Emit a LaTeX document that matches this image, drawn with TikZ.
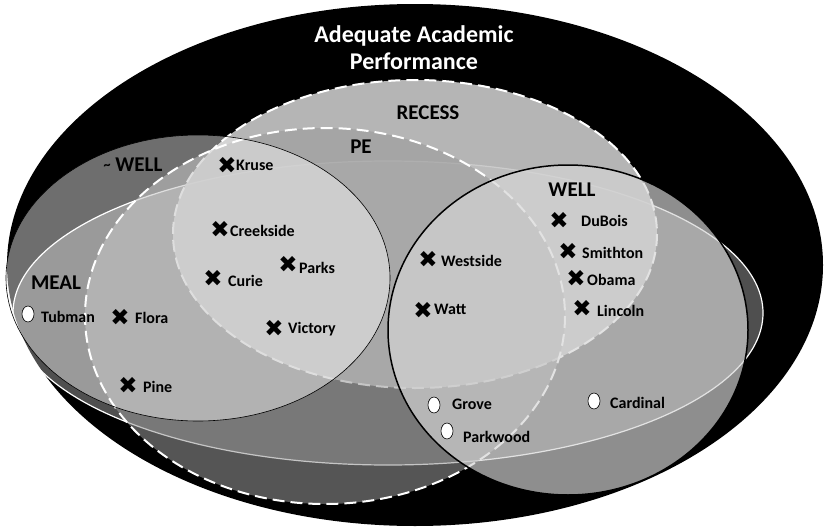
\documentclass[tikz,border=0pt]{standalone}
\usepackage{fontspec}
\setmainfont{Carlito}
\newfontfamily\symfont{DejaVu Sans}
\usetikzlibrary{shapes.geometric}
\definecolor{recessfill}{gray}{0.78}
\definecolor{pefill}{gray}{0.60}
\definecolor{wellfill}{gray}{0.835}
\begin{document}
\begin{tikzpicture}[
    x=1pt, y=-1pt,
    outer/.style={fill=black},
    meal/.style={fill=white, fill opacity=0.31, draw=white, line width=1.2pt},
    recess/.style={fill=recessfill, fill opacity=0.91, draw=white, line width=2pt, dash pattern=on 12pt off 6pt},
    pe/.style={fill=pefill, fill opacity=0.56, draw=white, line width=2pt, dash pattern=on 12pt off 6pt},
    notwell/.style={fill=white, fill opacity=0.43, draw=black, line width=0.6pt},
    well/.style={fill=wellfill, fill opacity=0.67, draw=black, line width=1.5pt},
    setname/.style={font=\bfseries\fontsize{21}{21}\selectfont, inner sep=0pt},
    title/.style={font=\bfseries\fontsize{24}{24}\selectfont, text=white, align=center, inner sep=0pt},
    cross/.style={font=\symfont\bfseries\fontsize{23}{23}\selectfont, inner sep=0pt},
    hollow/.style={ellipse, draw=black, fill=white, line width=0.6pt, minimum width=12pt, minimum height=16pt, inner sep=0pt},
    school/.style={font=\bfseries\fontsize{16}{16}\selectfont, anchor=west, inner sep=0pt}
  ]
  \useasboundingbox (0,0) rectangle (825,530);
  % Draw the sets, back to front.
  \fill[outer] (415,265) ellipse [x radius=408, y radius=261];
  \draw[meal] (388,313) ellipse [x radius=375, y radius=152];
  \draw[recess] (415,234) ellipse [x radius=242, y radius=154];
  \draw[pe] (325,316) ellipse [x radius=240, y radius=188];
  \draw[notwell] (198,278) ellipse [x radius=192, y radius=143];
  \draw[well] (568,330) ellipse [x radius=180, y radius=165];
  % Name the sets.
  \node[title] (aap) at (414,48) {Adequate Academic\\[3pt]Performance};
  \node[setname] (recesslbl) at (428,113) {RECESS};
  \node[setname] (pelbl) at (361,147) {PE};
  \node[setname] (notwelllbl) at (133,165) {\raisebox{2pt}{\fontsize{14}{14}\selectfont\textasciitilde}\ WELL};
  \node[setname] (meallbl) at (56,283) {MEAL};
  \node[setname] (welllbl) at (572,190) {WELL};
  % Schools marked with a cross.
  \node[cross] (kruse) at (227,165) {✖};
  \node[school] (kruselbl) at (236,165) {Kruse};
  \node[cross] (creekside) at (220,229) {✖};
  \node[school] (creeksidelbl) at (230,231) {Creekside};
  \node[cross] (curie) at (213,278) {✖};
  \node[school] (curielbl) at (228,281) {Curie};
  \node[cross] (parks) at (288,264) {✖};
  \node[school] (parkslbl) at (299,268) {Parks};
  \node[cross] (victory) at (274,328) {✖};
  \node[school] (victorylbl) at (288,329) {Victory};
  \node[cross] (flora) at (120,317) {✖};
  \node[school] (floralbl) at (135,318) {Flora};
  \node[cross] (pine) at (128,385) {✖};
  \node[school] (pinelbl) at (143,387) {Pine};
  \node[cross] (westside) at (428,259) {✖};
  \node[school] (westsidelbl) at (441,261) {Westside};
  \node[cross] (watt) at (423,310) {✖};
  \node[school] (wattlbl) at (434,309) {Watt};
  \node[cross] (dubois) at (559,220) {✖};
  \node[school] (duboislbl) at (581,221) {DuBois};
  \node[cross] (smithton) at (568,251) {✖};
  \node[school] (smithtonlbl) at (582,253) {Smithton};
  \node[cross] (obama) at (576,278) {✖};
  \node[school] (obamalbl) at (587,280) {Obama};
  \node[cross] (lincoln) at (582,308) {✖};
  \node[school] (lincolnlbl) at (597,311) {Lincoln};
  % Schools marked with a hollow dot.
  \node[hollow] (tubman) at (28,314) {};
  \node[school] (tubmanlbl) at (41,317) {Tubman};
  \node[hollow] (grove) at (434,405) {};
  \node[school] (grovelbl) at (452,404) {Grove};
  \node[hollow] (parkwood) at (447,431) {};
  \node[school] (parkwoodlbl) at (463,437) {Parkwood};
  \node[hollow] (cardinal) at (594,401) {};
  \node[school] (cardinallbl) at (610,403) {Cardinal};
\end{tikzpicture}
\end{document}
